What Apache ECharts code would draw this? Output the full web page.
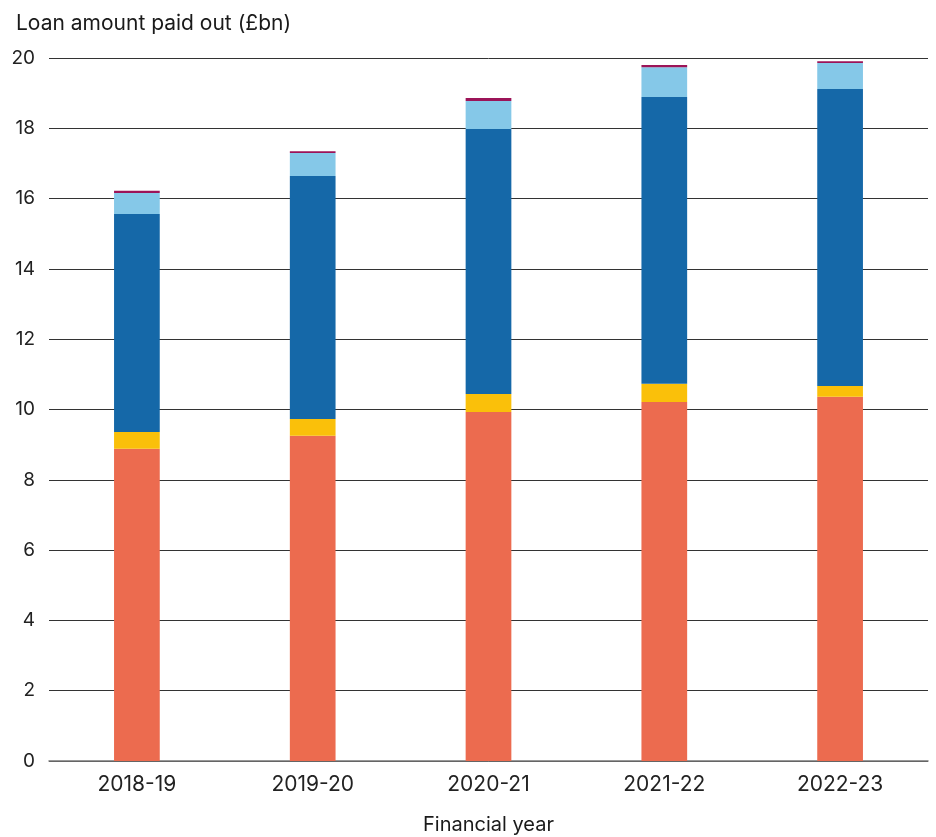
<!DOCTYPE html>
<html>
<head>
<meta charset="utf-8">
<script src="https://cdn.jsdelivr.net/npm/echarts@6/dist/echarts.min.js"></script>
<style>
  html, body { margin: 0; padding: 0; background: #fff; }
  #chart { width: 936px; height: 837px; }
</style>
</head>
<body>
<div id="chart"></div>
<script>
// Financial years on the x axis
const years = ['2018-19', '2019-20', '2020-21', '2021-22', '2022-23'];

// Loan amounts paid out (£bn), stacked bottom to top
const seriesA = [8.88, 9.25, 9.93, 10.21, 10.36];
const seriesB = [0.48, 0.48, 0.51, 0.52, 0.31];
const seriesC = [6.20, 6.91, 7.54, 8.16, 8.45];
const seriesD = [0.60, 0.66, 0.80, 0.85, 0.74];
const seriesE = [0.06, 0.05, 0.08, 0.06, 0.05];

const stackSeries = [
  { name: 'A', data: seriesA, color: '#EC6B4F' },
  { name: 'B', data: seriesB, color: '#FAC00A' },
  { name: 'C', data: seriesC, color: '#1568A8' },
  { name: 'D', data: seriesD, color: '#85C8E8' },
  { name: 'E', data: seriesE, color: '#9C1458' }
];

const FONT = 'Inter, "Liberation Sans", Arial, sans-serif';
const chart = echarts.init(document.getElementById('chart'), null, { renderer: 'canvas' });

chart.setOption({
  animation: false,
  backgroundColor: '#ffffff',
  textStyle: { fontFamily: FONT },
  title: {
    text: 'Loan amount paid out (£bn)',
    left: 11,
    top: 8,
    textStyle: { fontFamily: FONT, fontSize: 21, fontWeight: 'normal', color: '#1a1a1a' }
  },
  grid: { left: 49, right: 8, top: 58, bottom: 76, containLabel: false, outerBoundsMode: 'none' },
  xAxis: {
    type: 'category',
    data: years,
    name: 'Financial year',
    nameLocation: 'middle',
    nameGap: 54,
    nameTextStyle: { fontFamily: FONT, fontSize: 20, color: '#1a1a1a' },
    axisLine: { show: true, lineStyle: { color: '#777', width: 1.5 } },
    axisTick: { show: false },
    axisLabel: { fontFamily: FONT, fontSize: 21, color: '#222', margin: 13 }
  },
  yAxis: {
    type: 'value',
    min: 0,
    max: 20,
    interval: 2,
    axisLine: { show: false },
    axisTick: { show: false },
    axisLabel: { fontFamily: FONT, fontSize: 19, color: '#222', margin: 14 },
    splitLine: { show: true, lineStyle: { color: '#333', width: 1 } }
  },
  series: stackSeries.map(s => ({
    name: s.name,
    type: 'bar',
    stack: 'total',
    data: s.data,
    barWidth: '26%',
    itemStyle: { color: s.color },
    emphasis: { disabled: true }
  }))
});
</script>
</body>
</html>
